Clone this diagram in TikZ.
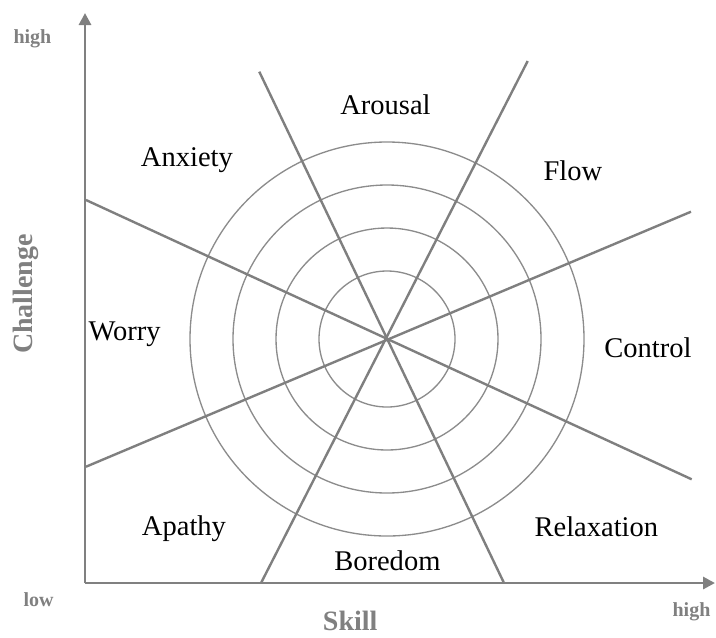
\documentclass[tikz,border=0pt]{standalone}
\usepackage{fontspec}
\setmainfont{Liberation Serif}
\usetikzlibrary{arrows.meta}
\definecolor{axisgray}{HTML}{808080}
\definecolor{spokegray}{HTML}{7F7F7F}
\definecolor{ringgray}{HTML}{8C8C8C}
\tikzset{
  axisline/.style={draw=axisgray, line width=2.2pt, -{Triangle[length=9pt,width=9pt]}},
  spoke/.style={draw=spokegray, line width=1.8pt},
  ring/.style={draw=ringgray, line width=1pt},
  state/.style={inner sep=0pt, anchor=base west, font=\fontsize{21.4}{24}\selectfont},
  axistitle/.style={inner sep=0pt, text=axisgray, font=\fontsize{21}{24}\selectfont\bfseries},
  axisend/.style={inner sep=0pt, anchor=base west, text=axisgray, font=\fontsize{15}{18}\selectfont\bfseries}
}
\begin{document}
\begin{tikzpicture}[x=0.75pt, y=-0.75pt]
  \useasboundingbox (0,0) rectangle (716,637);

  % origin of the skill/challenge plane and the ends of the axes
  \coordinate (origin) at (85,583);
  \coordinate (ytip) at (85,13);
  \coordinate (xtip) at (715,583);

  % centre of the rings and the ends of the four spokes
  \coordinate (c) at (387,339);
  \coordinate (s1a) at (259.3,71.7);
  \coordinate (s1b) at (504,583);
  \coordinate (s2a) at (527.7,61);
  \coordinate (s2b) at (261,583);
  \coordinate (s3a) at (86,200);
  \coordinate (s3b) at (691.7,479.3);
  \coordinate (s4a) at (86,466.7);
  \coordinate (s4b) at (691,211.7);

  % concentric rings
  \foreach \r in {68,111,154,197}
    \draw[ring] (c) circle[radius=\r];

  % spokes dividing the eight states
  \draw[spoke] (s1a) -- (s1b);
  \draw[spoke] (s2a) -- (s2b);
  \draw[spoke] (s3a) -- (s3b);
  \draw[spoke] (s4a) -- (s4b);

  % axes
  \draw[axisline] (origin) -- (ytip);
  \draw[axisline] (origin) -- (xtip);

  % state labels
  \node[state] (arousal) at (340,114) {Arousal};
  \node[state] (anxiety) at (140.7,166.7) {Anxiety};
  \node[state] (flow) at (543.3,180) {Flow};
  \node[state] (worry) at (88.3,340) {Worry};
  \node[state] (control) at (604,357.3) {Control};
  \node[state] (apathy) at (141.7,535) {Apathy};
  \node[state] (boredom) at (334,570.7) {Boredom};
  \node[state] (relax) at (534.3,536.7) {Relaxation};

  % axis titles and end labels
  \node[axistitle, anchor=base, rotate=90] (challenge) at (32.3,294) {Challenge};
  \node[axistitle, anchor=base west] (skill) at (322.7,630) {Skill};
  \node[axisend] (yhigh) at (13.3,43.3) {high};
  \node[axisend] (xlow) at (23.3,606.7) {low};
  \node[axisend] (xhigh) at (672.3,616) {high};
\end{tikzpicture}
\end{document}
